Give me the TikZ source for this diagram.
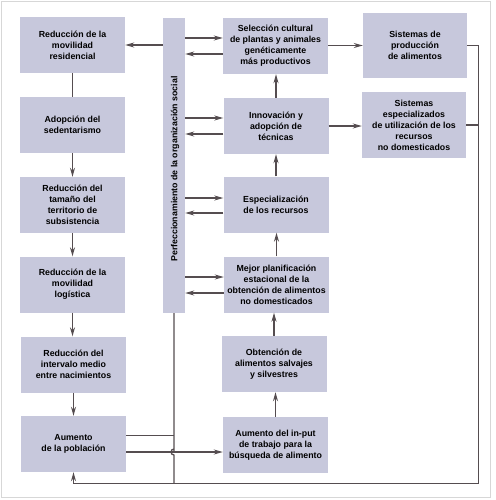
\documentclass[tikz,border=0pt]{standalone}
\usepackage{fontspec}
\setmainfont{Liberation Sans}
\usetikzlibrary{arrows.meta,calc}
\definecolor{boxfill}{RGB}{199,200,220}
\definecolor{linec}{RGB}{85,77,80}
\definecolor{framec}{RGB}{215,215,215}
\begin{document}
\begin{tikzpicture}[x=1pt,y=-1pt,
  box/.style={fill=boxfill,draw=none,minimum width=105pt,minimum height=56pt,inner sep=1pt,
    align=center,font=\fontsize{8.8}{11}\selectfont\bfseries},
  conn/.style={draw=linec,line width=1.3pt},
  arr/.style={conn,-{Stealth[length=9pt,width=5pt]}}]
\useasboundingbox (0,0) rectangle (495,500);
\draw[framec,line width=1.5pt] (1.5,1.5) rectangle (490.5,497.5);
% left column
\node[box] (b1) at (72.5,45) {Reducción de la\\movilidad\\residencial};
\node[box] (b2) at (72.5,125) {Adopción del\\sedentarismo};
\node[box] (b3) at (72.5,205) {Reducción del\\tamaño del\\territorio de\\subsistencia};
\node[box] (b4) at (72.5,284.5) {Reducción de la\\movilidad\\logística};
\node[box] (b5) at (73.5,364.5) {Reducción del\\intervalo medio\\entre nacimientos};
\node[box] (b6) at (73.5,444) {Aumento\\de la población};
% bar
\node[fill=boxfill,minimum width=22pt,minimum height=295pt,inner sep=0pt] (bar) at (174,165.5) {};
\node[rotate=90,font=\fontsize{8.8}{10}\selectfont\bfseries] (bartext) at (175,169) {Perfeccionamiento de la organización social};
% middle column
\node[box] (m1) at (275.5,46) {Selección cultural\\de plantas y animales\\genéticamente\\más productivos};
\node[box] (m2) at (276,126) {Innovación y\\adopción de\\técnicas};
\node[box] (m3) at (276,204.5) {Especialización\\de los recursos};
\node[box] (m4) at (276.5,284.5) {Mejor planificación\\estacional de la\\obtención de alimentos\\no domesticados};
\node[box] (m5) at (274,364) {Obtención de\\alimentos salvajes\\y silvestres};
\node[box] (m6) at (275.5,445) {Aumento del in-put\\de trabajo para la\\búsqueda de alimento};
% right column
\node[box,minimum width=104pt,minimum height=65pt] (r1) at (415,45.5) {Sistemas de\\producción\\de alimentos};
\node[box,minimum width=104pt,minimum height=66pt] (r2) at (414,125) {Sistemas\\especializados\\de utilización de los\\recursos\\no domesticados};
% corner coordinates
\coordinate (cr) at (478.5,483.5);
% bar -> b1
\draw[arr] (bar.west |- b1) -- (b1.east);
% left chain
\draw[conn] (b1.south) -- (b1.south |- b2.north);
\draw[arr] (b2.south) -- (b2.south |- b3.north);
\draw[arr] (b3.south) -- (b3.south |- b4.north);
\draw[arr] (b4.south) -- (b4.south |- b5.north);
\draw[arr] (b5.south) -- (b5.south |- b6.north);
% bar <-> middle
\foreach \m/\u/\d in {m1/8/-8, m2/8/-8, m3/6.5/-8.5, m4/7.5/-8.5}{
  \path ([yshift=\u pt]\m.west) coordinate (\m a) ([yshift=\d pt]\m.west) coordinate (\m b);
  \draw[arr] (bar.east |- \m a) -- (\m a);
  \draw[arr] (\m b) -- (bar.east |- \m b);
}
% middle chain upward
\draw[arr] (m6.north) -- (m6.north |- m5.south);
\draw[arr] (m5.north) -- (m5.north |- m4.south);
\draw[arr] (m4.north) -- (m4.north |- m3.south);
\draw[arr] (m3.north) -- (m3.north |- m2.south);
\draw[arr] (m2.north) -- (m2.north |- m1.south);
% middle -> right
\draw[arr] (m1.east |- r1) -- (r1.west);
\draw[arr] (m2.east) -- (m2.east -| r2.west);
% feedback loop
\draw[arr] (r1.east) -| (cr) -| (b6.south);
\draw[conn] (r2.east) -- (r2.east -| cr);
% bar bottom line with hop
\path ([yshift=8.5pt]b6.east) coordinate (b6a) ([yshift=-8pt]b6.east) coordinate (b6b);
\draw[conn] (bar.south) -- (bar.south |- b6b) ++(0,-3)
  arc[start angle=90,end angle=270,radius=3pt] -- (bar.south |- cr);
\draw[conn] (b6a) -- (b6a -| bar.south);
\draw[arr] (b6b) -- (b6b -| m6.west);
\end{tikzpicture}
\end{document}
